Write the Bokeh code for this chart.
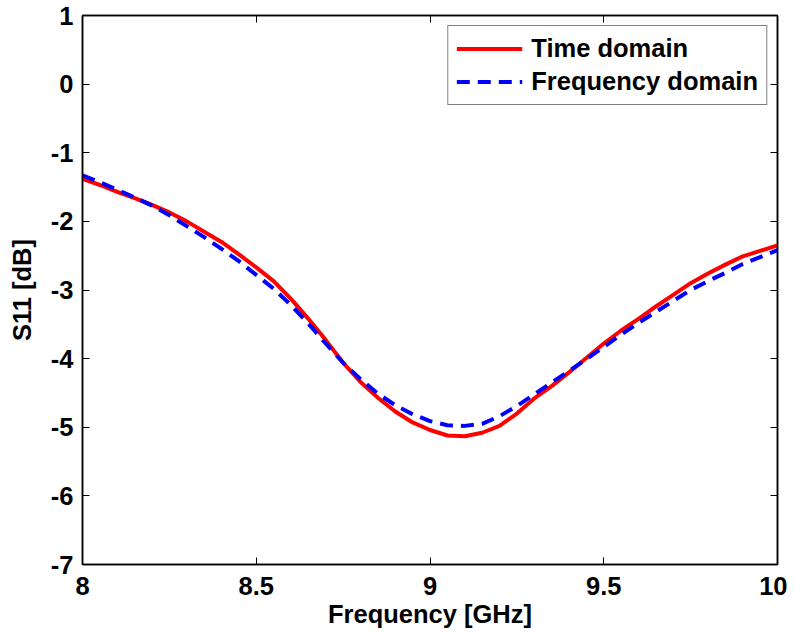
from bokeh.plotting import figure
from bokeh.models import LinearAxis, Range1d, FixedTicker, Legend, LegendItem
from bokeh.embed import file_html
from bokeh.resources import INLINE

freq = [8.00, 8.05, 8.10, 8.15, 8.20, 8.25, 8.30, 8.35, 8.40, 8.45, 8.50,
        8.55, 8.60, 8.65, 8.70, 8.75, 8.80, 8.85, 8.90, 8.95, 9.00,
        9.05, 9.10, 9.15, 9.20, 9.25, 9.30, 9.35, 9.40, 9.45, 9.50,
        9.55, 9.60, 9.65, 9.70, 9.75, 9.80, 9.85, 9.90, 9.95, 10.00]
time_domain = [-1.38, -1.47, -1.57, -1.66, -1.76, -1.87, -2.00, -2.15, -2.30, -2.48, -2.67,
               -2.87, -3.13, -3.42, -3.73, -4.06, -4.34, -4.57, -4.77, -4.93, -5.04,
               -5.12, -5.13, -5.08, -4.98, -4.80, -4.58, -4.40, -4.20, -3.99, -3.78,
               -3.59, -3.42, -3.24, -3.07, -2.90, -2.76, -2.63, -2.51, -2.43, -2.35]
freq_domain = [-1.33, -1.43, -1.54, -1.65, -1.77, -1.91, -2.07, -2.23, -2.40, -2.58, -2.78,
               -2.98, -3.22, -3.49, -3.78, -4.06, -4.30, -4.51, -4.68, -4.81, -4.91,
               -4.97, -4.98, -4.95, -4.84, -4.69, -4.52, -4.35, -4.18, -4.01, -3.83,
               -3.65, -3.48, -3.32, -3.16, -3.00, -2.87, -2.75, -2.62, -2.52, -2.42]
x_ticks = [8, 8.5, 9, 9.5, 10]
y_ticks = [1, 0, -1, -2, -3, -4, -5, -6, -7]
x_tick_labels = {8: "8", 8.5: "8.5", 9: "9", 9.5: "9.5", 10: "10"}
y_tick_labels = {1: "1", 0: "0", -1: "-1", -2: "-2", -3: "-3", -4: "-4", -5: "-5", -6: "-6", -7: "-7"}

FONT = "Liberation Sans"
FS = "25.5px"

p = figure(frame_width=695, frame_height=549,
           min_border_left=82, min_border_right=10, min_border_top=15, min_border_bottom=60,
           x_range=Range1d(8, 10), y_range=Range1d(-7, 1),
           output_backend="svg", toolbar_location=None,
           x_axis_label="Frequency [GHz]", y_axis_label="S11 [dB]")
p.grid.visible = False
p.outline_line_color = "black"
p.outline_line_width = 1.5
p.background_fill_color = "white"
p.border_fill_color = "white"

def style(ax, labels, show):
    ax.ticker = FixedTicker(ticks=list(labels.keys()))
    ax.major_label_overrides = labels
    ax.major_tick_in = 7
    ax.major_tick_out = 0
    ax.minor_tick_in = 0
    ax.minor_tick_out = 0
    ax.axis_line_color = "black"
    ax.axis_line_width = 1.5
    ax.major_tick_line_color = "black"
    ax.major_tick_line_width = 1
    ax.major_label_text_font = FONT
    ax.major_label_text_font_style = "bold"
    ax.major_label_text_font_size = FS
    ax.major_label_text_color = "black"
    ax.axis_label_text_font = FONT
    ax.axis_label_text_font_style = "bold"
    ax.axis_label_text_font_size = FS
    ax.axis_label_text_color = "black"
    if not show:
        ax.major_label_text_font_size = "0px"
        ax.major_label_text_color = None

style(p.xaxis[0], x_tick_labels, True)
style(p.yaxis[0], y_tick_labels, True)
p.xaxis[0].major_label_standoff = 12
p.yaxis[0].major_label_standoff = 9
p.xaxis[0].axis_label_standoff = 2
p.yaxis[0].axis_label_standoff = 12

top = LinearAxis()
right = LinearAxis()
style(top, x_tick_labels, False)
style(right, y_tick_labels, False)
p.add_layout(top, "above")
p.add_layout(right, "right")

r1 = p.line(freq, time_domain, line_color="#ff0000", line_width=4)
r2 = p.line(freq, freq_domain, line_color="#0000ff", line_width=4, line_dash="13 8")

legend = Legend(items=[LegendItem(label="Time domain", renderers=[r1]),
                       LegendItem(label="Frequency domain", renderers=[r2])],
                location="top_right")
legend.label_text_font = FONT
legend.label_text_font_style = "bold"
legend.label_text_font_size = FS
legend.label_text_color = "black"
legend.border_line_color = "black"
legend.border_line_width = 1.5
legend.background_fill_color = "white"
legend.background_fill_alpha = 1
legend.glyph_width = 66
legend.glyph_height = 27
legend.label_height = 27
legend.label_standoff = 9
legend.spacing = 4
legend.padding = 8
legend.margin = 10
p.add_layout(legend)

open("out.html", "w").write(file_html(p, INLINE))
